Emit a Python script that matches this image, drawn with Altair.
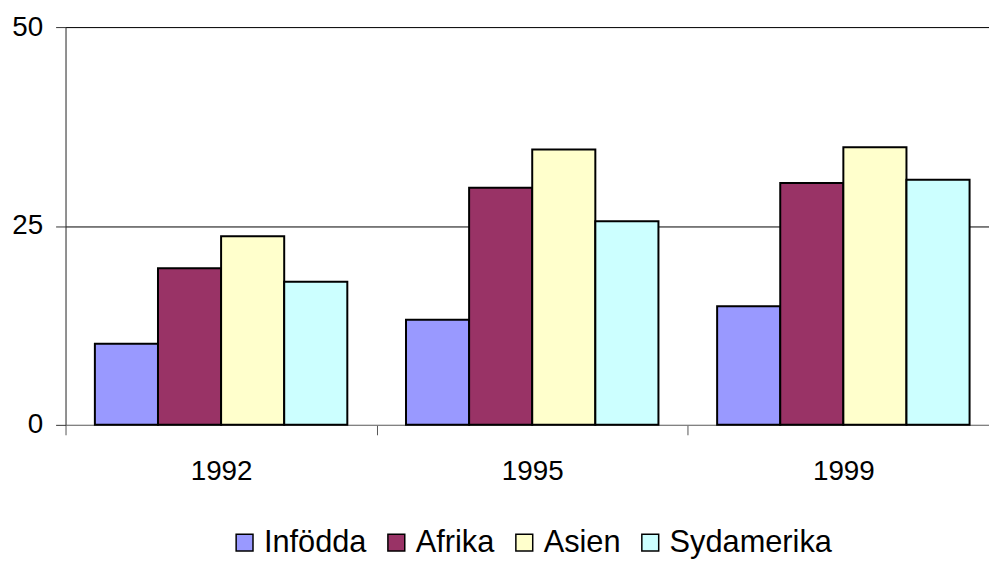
import altair as alt
import pandas as pd

years = ["1992", "1995", "1999"]
series = ["Infödda", "Afrika", "Asien", "Sydamerika"]
infodda = [10.2, 13.2, 14.9]
afrika = [19.7, 29.8, 30.4]
asien = [23.7, 34.6, 34.9]
sydamerika = [18.0, 25.6, 30.8]
colors = ["#9999FF", "#993366", "#FFFFCC", "#CCFFFF"]
y_ticks = [0, 25, 50]

rows = []
for name, vals in zip(series, [infodda, afrika, asien, sydamerika]):
    for yr, v in zip(years, vals):
        rows.append({"year": yr, "series": name, "value": v})
df = pd.DataFrame(rows)

FONT = "Liberation Sans"

chart = alt.Chart(df).mark_bar(stroke="black", strokeWidth=2).encode(
    x=alt.X("year:N", sort=years, title=None,
            scale=alt.Scale(range=[0, 941], paddingInner=0, paddingOuter=0),
            axis=alt.Axis(labelAngle=0, labelFontSize=28, labelFont=FONT, labelColor="black",
                          tickBand="extent", tickSize=10, tickColor="#555555",
                          domainColor="#808080", labelPadding=23, grid=False)),
    xOffset=alt.XOffset("series:N", sort=series,
                        scale=alt.Scale(paddingInner=0, paddingOuter=0.465)),
    y=alt.Y("value:Q", title=None,
            scale=alt.Scale(domain=[0, 50], nice=False),
            axis=alt.Axis(values=y_ticks, labelFontSize=28, labelFont=FONT, labelColor="black",
                          tickSize=10, tickColor="#333333", domainColor="#333333",
                          labelPadding=13, grid=True,
                          gridColor={"condition": {"test": "datum.value === 0", "value": "#808080"},
                                     "value": "#000000"},
                          gridOpacity=1)),
    fill=alt.Fill("series:N", sort=series,
                  scale=alt.Scale(domain=series, range=colors),
                  legend=alt.Legend(title=None, orient="none", legendX=165, legendY=504,
                                    direction="horizontal", symbolType="square",
                                    symbolSize=289, symbolStrokeColor="black",
                                    symbolStrokeWidth=1.5, symbolOpacity=1,
                                    labelFontSize=31, labelFont=FONT, labelColor="black",
                                    labelLimit=400,
                                    labelOffset=4, columnPadding=14, padding=0)),
).properties(
    width=931, height=401,
    autosize=alt.AutoSizeParams(type="none"),
    padding={"left": 58, "top": 17, "right": 0, "bottom": 134},
).configure_view(stroke=None).configure(background="white")

chart.save("out.html", embed_options={"renderer": "svg", "actions": False})
